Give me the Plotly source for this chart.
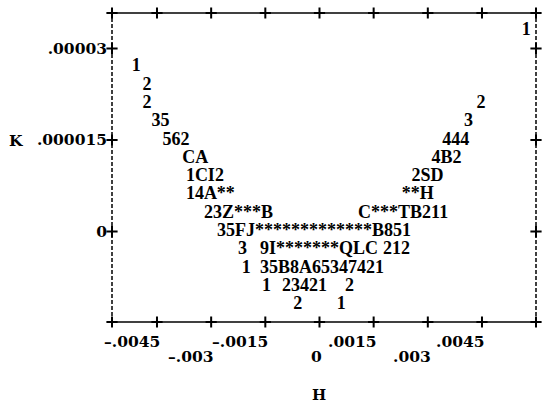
import plotly.graph_objects as go

# line-printer style plot of K against H; each entry is a run of plot symbols
K_ROWS = [0.000033, 0.000027, 0.000024, 0.000021, 0.000021, 0.000018, 0.000018,
          0.000015, 0.000015, 0.000012, 0.000012, 0.000009, 0.000009,
          0.000006, 0.000006, 0.000003, 0.000003, 0.0,
          -0.000003, -0.000003, -0.000003,
          -0.000006, -0.000006,
          -0.000009, -0.000009, -0.000009,
          -0.000012, -0.000012]
H_START = [0.0056, -0.0052, -0.0049, -0.0049, 0.00435, -0.00465, 0.0040,
           -0.00435, 0.0034, -0.0038, 0.0031, -0.0037, 0.00255,
           -0.0037, 0.00228, -0.0032, 0.00107, -0.00284,
           -0.00226, -0.00165, 0.00176,
           -0.00215, -0.00165,
           -0.00159, -0.00104, 0.00071,
           -0.00073, 0.00048]
SYMBOLS = ["1", "1", "2", "2", "2", "35", "3",
           "562", "444", "CA", "4B2", "1CI2", "2SD",
           "14A**", "**H", "23Z***B", "C***TB211", "35FJ*************B851",
           "3", "9I*******QLC", "212",
           "1", "35B8A65347421",
           "1", "23421", "2",
           "2", "1"]

H_TICKS = [-0.0045, -0.003, -0.0015, 0, 0.0015, 0.003, 0.0045]
H_TICK_TEXT = ["\u2013.0045", "\u2013.003", "\u2013.0015", "0", ".0015", ".003", ".0045"]
K_TICKS = [0, 0.000015, 0.00003]
K_TICK_TEXT = ["0", ".000015", ".00003"]

X_RANGE = [-0.005746, 0.005996]
Y_RANGE = [-0.0000148, 0.0000358]

DATA_FONT = "Liberation Serif"
LABEL_FONT = "DejaVu Serif"

fig = go.Figure()

fig.add_trace(go.Scatter(
    x=H_START,
    y=K_ROWS,
    mode="text",
    text=SYMBOLS,
    textposition="middle right",
    textfont=dict(family=DATA_FONT, size=18, color="black", weight="bold"),
    cliponaxis=False,
    hoverinfo="skip",
    showlegend=False,
))

# "+" marks along the frame at the ticks and corners
px_, py_ = [], []
for h in H_TICKS + X_RANGE:
    px_ += [h, h]
    py_ += [Y_RANGE[0], Y_RANGE[1]]
for k in K_TICKS:
    px_ += [X_RANGE[0], X_RANGE[1]]
    py_ += [k, k]
fig.add_trace(go.Scatter(
    x=px_, y=py_, mode="markers",
    marker=dict(symbol="cross-thin", size=8, line=dict(width=2, color="black")),
    cliponaxis=False, hoverinfo="skip", showlegend=False,
))

solid = dict(color="black", width=1.5)
dashed = dict(color="black", width=1.5, dash="4px,2px")
fig.add_shape(type="line", xref="paper", yref="paper", x0=0, x1=1, y0=1, y1=1, line=solid)
fig.add_shape(type="line", xref="paper", yref="paper", x0=0, x1=1, y0=0, y1=0, line=solid)
fig.add_shape(type="line", xref="paper", yref="paper", x0=0, x1=0, y0=0, y1=1, line=dashed)
fig.add_shape(type="line", xref="paper", yref="paper", x0=1, x1=1, y0=0, y1=1, line=dashed)

# staggered x tick labels, right end on the tick
for i, (v, t) in enumerate(zip(H_TICKS, H_TICK_TEXT)):
    fig.add_annotation(
        x=v, y=-0.062 if i % 2 == 0 else -0.113, xref="x", yref="paper",
        text=t, showarrow=False, xanchor="right", yanchor="middle", xshift=5,
        font=dict(family=LABEL_FONT, size=15.5, color="black", weight="bold"),
    )

fig.add_annotation(x=0, y=-0.236, xref="x", yref="paper", text="H", showarrow=False,
                   xanchor="center", yanchor="middle",
                   font=dict(family=LABEL_FONT, size=15, color="black", weight="bold"))
fig.add_annotation(x=-0.226, y=0.000015, xref="paper", yref="y", text="K", showarrow=False,
                   xanchor="center", yanchor="middle",
                   font=dict(family=LABEL_FONT, size=15.5, color="black", weight="bold"))

fig.update_xaxes(range=X_RANGE, showgrid=False, zeroline=False, showticklabels=False,
                 showline=False, ticks="")
fig.update_yaxes(range=Y_RANGE, showgrid=False, zeroline=False, showline=False, ticks="",
                 tickvals=K_TICKS, ticktext=K_TICK_TEXT, ticklabelstandoff=4,
                 tickfont=dict(family=LABEL_FONT, size=15.5, color="black", weight="bold"))

fig.update_layout(
    width=543, height=403,
    margin=dict(l=112, r=7, t=13, b=81),
    plot_bgcolor="white", paper_bgcolor="white",
)

fig.write_html("out.html", config={"displayModeBar": False},
               post_script="document.body.style.margin='0px';")
